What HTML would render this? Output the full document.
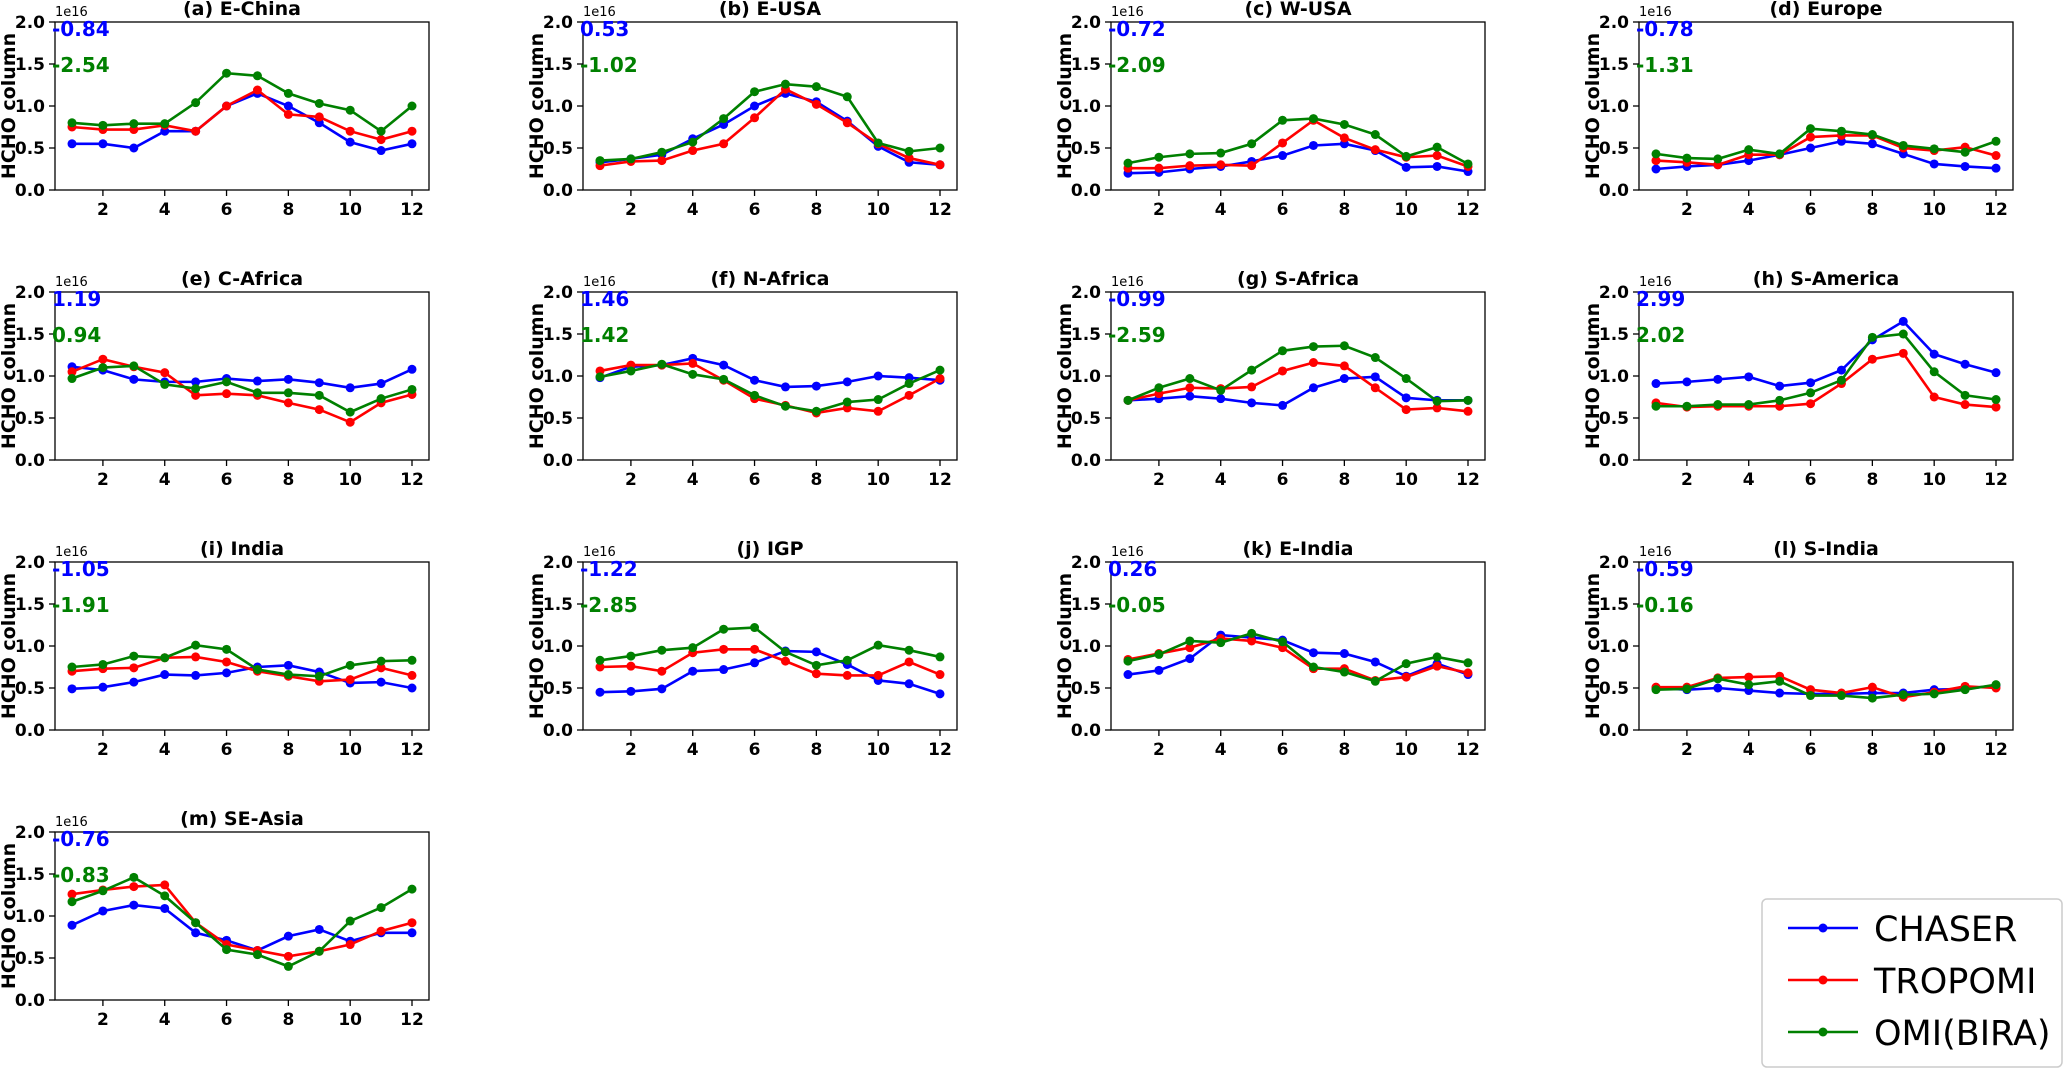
<!DOCTYPE html>
<html><head><meta charset="utf-8"><style>
html,body{margin:0;padding:0;background:#fff}
svg{display:block;font-family:"DejaVu Sans","Liberation Sans",sans-serif}
</style></head><body>
<svg id="fig" width="2067" height="1071" viewBox="0 0 2067 1071" xmlns="http://www.w3.org/2000/svg"></svg>
<script>
const months = [1,2,3,4,5,6,7,8,9,10,11,12];
const titles = ["(a) E-China","(b) E-USA","(c) W-USA","(d) Europe","(e) C-Africa","(f) N-Africa","(g) S-Africa","(h) S-America","(i) India","(j) IGP","(k) E-India","(l) S-India","(m) SE-Asia"];
const blueNums = ["-0.84","0.53","-0.72","-0.78","1.19","1.46","-0.99","2.99","-1.05","-1.22","0.26","-0.59","-0.76"];
const greenNums = ["-2.54","-1.02","-2.09","-1.31","0.94","1.42","-2.59","2.02","-1.91","-2.85","-0.05","-0.16","-0.83"];
const chaser = [
[.55,.55,.50,.70,.70,1.0,1.15,1.0,.80,.57,.47,.55],
[.33,.37,.42,.61,.78,1.0,1.15,1.05,.82,.52,.33,.30],
[.20,.21,.25,.28,.34,.41,.53,.55,.47,.27,.28,.22],
[.25,.28,.30,.35,.42,.50,.58,.55,.43,.31,.28,.26],
[1.11,1.07,.96,.93,.93,.97,.94,.96,.92,.86,.91,1.08],
[.98,1.11,1.13,1.21,1.13,.95,.87,.88,.93,1.00,.98,.95],
[.71,.73,.76,.73,.68,.65,.86,.97,.99,.74,.71,.71],
[.91,.93,.96,.99,.88,.92,1.07,1.43,1.65,1.26,1.14,1.04],
[.49,.51,.57,.66,.65,.68,.75,.77,.69,.56,.57,.50],
[.45,.46,.49,.70,.72,.80,.94,.93,.78,.59,.55,.43],
[.66,.71,.85,1.13,1.10,1.07,.92,.91,.81,.64,.79,.66],
[.50,.48,.50,.47,.44,.43,.43,.44,.44,.48,.49,.53],
[.89,1.06,1.13,1.09,.80,.71,.59,.76,.84,.70,.80,.80]];
const tropomi = [
[.75,.72,.72,.77,.70,1.0,1.19,.90,.87,.70,.60,.70],
[.29,.34,.35,.47,.55,.86,1.20,1.02,.80,.55,.38,.30],
[.26,.26,.29,.30,.29,.56,.83,.62,.48,.39,.41,.28],
[.35,.33,.30,.42,.42,.63,.65,.65,.50,.47,.51,.41],
[1.05,1.20,1.11,1.04,.77,.79,.77,.68,.60,.45,.68,.78],
[1.06,1.13,1.13,1.15,.95,.73,.65,.56,.62,.58,.77,.97],
[.71,.79,.86,.85,.87,1.06,1.16,1.12,.86,.60,.62,.58],
[.68,.63,.64,.64,.64,.67,.91,1.20,1.27,.75,.66,.63],
[.70,.73,.74,.86,.87,.81,.70,.64,.58,.60,.74,.65],
[.75,.76,.70,.92,.96,.96,.82,.67,.65,.65,.81,.66],
[.84,.91,.98,1.09,1.06,.98,.73,.73,.59,.63,.76,.68],
[.51,.51,.62,.63,.64,.48,.44,.51,.39,.45,.52,.50],
[1.26,1.31,1.35,1.37,.92,.66,.59,.52,.58,.66,.82,.92]];
const omi = [
[.80,.77,.79,.79,1.04,1.39,1.36,1.15,1.03,.95,.70,1.0],
[.35,.37,.45,.57,.85,1.17,1.26,1.23,1.11,.56,.46,.50],
[.32,.39,.43,.44,.55,.83,.85,.78,.66,.40,.51,.31],
[.43,.38,.37,.48,.43,.73,.70,.66,.53,.49,.45,.58],
[.97,1.10,1.12,.90,.85,.93,.80,.80,.77,.57,.73,.84],
[.99,1.06,1.14,1.02,.96,.77,.64,.58,.69,.72,.91,1.07],
[.71,.86,.97,.83,1.07,1.30,1.35,1.36,1.22,.97,.70,.71],
[.64,.64,.66,.66,.71,.80,.95,1.46,1.50,1.05,.77,.72],
[.75,.78,.88,.86,1.01,.96,.72,.66,.64,.77,.82,.83],
[.83,.88,.95,.98,1.20,1.22,.93,.77,.83,1.01,.95,.87],
[.82,.90,1.06,1.04,1.15,1.05,.75,.69,.58,.79,.87,.80],
[.48,.49,.61,.54,.58,.41,.41,.38,.42,.43,.48,.54],
[1.17,1.30,1.46,1.24,.92,.60,.54,.40,.58,.94,1.10,1.32]];
const yTicks = [0,0.5,1.0,1.5,2.0];
const xTicks = [2,4,6,8,10,12];
const seriesNames = ["CHASER","TROPOMI","OMI(BIRA)"];

const NS="http://www.w3.org/2000/svg";
const svg=document.getElementById('fig');
function mk(tag,attrs,parent){const e=document.createElementNS(NS,tag);for(const k in attrs)e.setAttribute(k,attrs[k]);(parent||svg).appendChild(e);return e;}
const colLeft=[55,583,1111,1639], rowTop=[22,292,562,832], W=374, H=168;
const colors=["#0000ff","#ff0000","#008000"];
const allSeries=[chaser,tropomi,omi];
titles.forEach((t,i)=>{
  const L=colLeft[i%4], T=rowTop[Math.floor(i/4)];
  const xs=m=>L+(m-0.45)/12.1*W;
  const ys=v=>T+H-(v/2.0)*H;
  const g=mk('g',{});
  
  
  const tt=mk('text',{x:L+W/2,y:T-7,'text-anchor':'middle','font-size':19,'font-weight':'bold'},g);tt.textContent=t;
  
  const e16=mk('text',{x:L,y:T-6,'font-size':13},g);e16.textContent='1e16';
  
  yTicks.forEach(v=>{mk('line',{x1:L-6,x2:L,y1:ys(v),y2:ys(v),stroke:'#000','stroke-width':1.3},g);
    const tx=mk('text',{x:L-10,y:ys(v)+6,'text-anchor':'end','font-size':17,'font-weight':'bold'},g);tx.textContent=v.toFixed(1);
    });
  xTicks.forEach(m=>{mk('line',{x1:xs(m),x2:xs(m),y1:T+H,y2:T+H+6,stroke:'#000','stroke-width':1.3},g);
    const tx=mk('text',{x:xs(m),y:T+H+25,'text-anchor':'middle','font-size':17,'font-weight':'bold'},g);tx.textContent=m;
    });
  const yl=mk('text',{transform:`translate(${L-40},${T+H/2}) rotate(-90)`,'text-anchor':'middle','font-size':19,'font-weight':'bold'},g);yl.textContent='HCHO column';
  
  allSeries.forEach((s,k)=>{
    const vals=s[i];
    const pts=vals.map((v,j)=>xs(months[j])+','+ys(v)).join(' ');
    const pl=mk('polyline',{points:pts,fill:'none',stroke:colors[k],'stroke-width':2.6},g);
    
    
    vals.forEach((v,j)=>{const c=mk('circle',{cx:xs(months[j]),cy:ys(v),r:4.5,fill:colors[k]},g);
      });
  });
  mk('rect',{x:L,y:T,width:W,height:H,fill:'none',stroke:'#000','stroke-width':1.3},g);
  const b=mk('text',{x:L-3,y:T+14,'font-size':20,'font-weight':'bold',fill:'#0000ff'},g);b.textContent=blueNums[i];
  
  const gr=mk('text',{x:L-3,y:T+50,'font-size':20,'font-weight':'bold',fill:'#008000'},g);gr.textContent=greenNums[i];
  
});
// legend
const lg=mk('g',{});


mk('rect',{x:1762,y:899,width:300,height:168,rx:5,fill:'#fff',stroke:'#ccc','stroke-width':1.5},lg);
seriesNames.forEach((n,k)=>{const y=928+k*52;
  mk('line',{x1:1788,x2:1858,y1:y,y2:y,stroke:colors[k],'stroke-width':2.6},lg);
  mk('circle',{cx:1823,cy:y,r:4.5,fill:colors[k]},lg);
  const t=mk('text',{x:1874,y:y+13,'font-size':35},lg);t.textContent=n;
  });
</script>
</body></html>
